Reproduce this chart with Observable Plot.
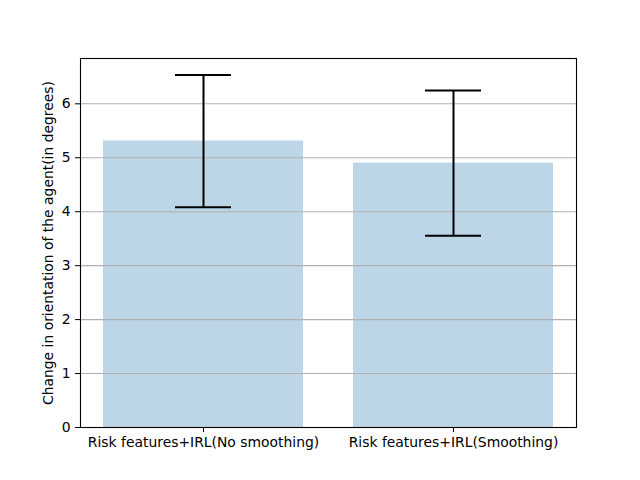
<!DOCTYPE html>
<html>
<head>
<meta charset="utf-8">
<script src="https://cdn.jsdelivr.net/npm/d3@7"></script>
<script src="https://cdn.jsdelivr.net/npm/@observablehq/plot@0.6"></script>
<style>
  body { margin: 0; background: #fff; }
  svg { font-family: "DejaVu Sans", sans-serif; }
</style>
</head>
<body>
<div id="chart"></div>
<script>
const methods = ["Risk features+IRL(No smoothing)", "Risk features+IRL(Smoothing)"];
const means = [5.31, 4.9];
const errors = [1.225, 1.345];
const yTicks = [0, 1, 2, 3, 4, 5, 6];

const rows = methods.map((m, i) => ({
  method: m,
  mean: means[i],
  lo: means[i] - errors[i],
  hi: means[i] + errors[i],
}));

const plot = Plot.plot({
  width: 640,
  height: 480,
  marginLeft: 80,
  marginRight: 64,
  marginTop: 58,
  marginBottom: 53,
  style: { fontFamily: "DejaVu Sans", fontSize: "13.9px", color: "black", background: "white" },
  x: { domain: methods, paddingInner: 0.2, paddingOuter: 0.092, label: null },
  y: { domain: [0, 6.84], label: null },
  marks: [
    Plot.barY(rows, { x: "method", y: "mean", fill: "#bcd6e8" }),
    Plot.gridY(yTicks, { stroke: "#b0b0b0", strokeOpacity: 1, strokeWidth: 1.1 }),
    Plot.ruleX(rows, { x: "method", y1: "lo", y2: "hi", stroke: "black", strokeWidth: 2 }),
    Plot.tickY(rows, { x: "method", y: "lo", stroke: "black", strokeWidth: 2, insetLeft: 72, insetRight: 72 }),
    Plot.tickY(rows, { x: "method", y: "hi", stroke: "black", strokeWidth: 2, insetLeft: 72, insetRight: 72 }),
    Plot.axisY({ ticks: yTicks, tickSize: 5, tickPadding: 5, tickFormat: d3.format("d"), label: null, fontSize: 13.9 }),
    Plot.axisX({ tickSize: 5, tickPadding: 5, label: null, fontSize: 13.9 }),
    Plot.text(["Change in orientation of the agent(in degrees)"], {
      frameAnchor: "left", textAnchor: "middle", dx: -32, rotate: -90, text: d => d, fontSize: 13.9, fill: "black"
    }),
    Plot.frame({ stroke: "black", strokeWidth: 1.1 }),
  ],
});
document.getElementById("chart").appendChild(plot);
</script>
</body>
</html>
